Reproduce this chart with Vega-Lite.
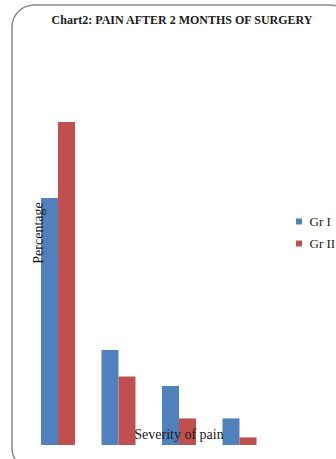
{
  "$schema": "https://vega.github.io/schema/vega-lite/v6.json",
  "width": 340,
  "height": 465,
  "autosize": {"type": "none"},
  "padding": {"left": 12, "top": 5, "right": 0, "bottom": 0},
  "background": "white",
  "title": {
    "text": "Chart2: PAIN AFTER 2 MONTHS OF SURGERY",
    "font": "Liberation Serif",
    "fontSize": 12,
    "fontWeight": "bold",
    "color": "#1a1a1a",
    "anchor": "middle",
    "offset": -22
  },
  "data": {
    "values": [
      {"severity": "None", "group": "Gr I", "percent": 65},
      {"severity": "None", "group": "Gr II", "percent": 85},
      {"severity": "Mild", "group": "Gr I", "percent": 25},
      {"severity": "Mild", "group": "Gr II", "percent": 18},
      {"severity": "Moderate", "group": "Gr I", "percent": 15.5},
      {"severity": "Moderate", "group": "Gr II", "percent": 7},
      {"severity": "Severe", "group": "Gr I", "percent": 7},
      {"severity": "Severe", "group": "Gr II", "percent": 2}
    ]
  },
  "mark": {"type": "bar"},
  "encoding": {
    "x": {
      "field": "severity",
      "type": "nominal",
      "sort": ["None", "Mild", "Moderate", "Severe"],
      "scale": {"range": [0, 273.5], "paddingInner": 0.438, "paddingOuter": 0.479},
      "axis": {
        "zindex": 1,
        "domain": false, "ticks": false, "labels": false, "grid": false,
        "title": "Severity of pain",
        "titleX": 166.5, "titleY": -35.5,
        "titleBaseline": "middle", "titleAlign": "center",
        "titleFont": "Liberation Serif", "titleFontSize": 14,
        "titleFontWeight": "normal", "titleColor": "#1a1a1a"
      }
    },
    "xOffset": {
      "field": "group",
      "type": "nominal",
      "scale": {"paddingInner": 0, "paddingOuter": 0}
    },
    "y": {
      "field": "percent",
      "type": "quantitative",
      "scale": {"domain": [0, 115.8], "range": [440, 0], "nice": false},
      "axis": {
        "zindex": 1,
        "domain": false, "ticks": false, "labels": false, "grid": false,
        "title": "Percentage",
        "titleX": 26.5, "titleY": 227.5, "titleAngle": -90,
        "titleBaseline": "middle", "titleAlign": "center",
        "titleFont": "Liberation Serif", "titleFontSize": 14,
        "titleFontWeight": "normal", "titleColor": "#1a1a1a"
      }
    },
    "color": {
      "field": "group",
      "type": "nominal",
      "scale": {"domain": ["Gr I", "Gr II"], "range": ["#4f81bd", "#c0504d"]},
      "legend": {
        "orient": "none", "legendX": 280.5, "legendY": 210,
        "title": null, "symbolType": "square", "symbolSize": 36,
        "symbolStrokeWidth": 0,
        "labelFont": "Liberation Serif", "labelFontSize": 13,
        "labelColor": "#1a1a1a",
        "rowPadding": 8, "padding": 0, "labelOffset": 4
      }
    }
  },
  "config": {"view": {"stroke": "#8c8c8c", "strokeWidth": 1.5, "cornerRadius": 22}}
}
